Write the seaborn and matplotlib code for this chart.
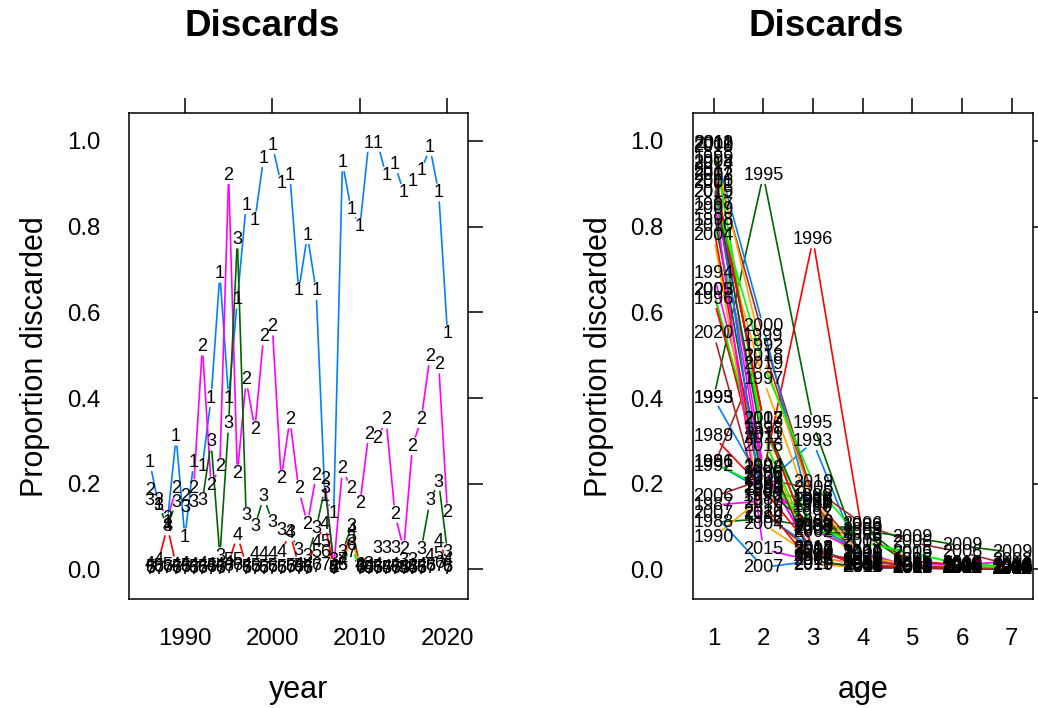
import numpy as np
import pandas as pd
import matplotlib
matplotlib.use("Agg")
import matplotlib.pyplot as plt
import seaborn as sns

# ---------------- data ----------------
years = list(range(1986, 2021))
ages = [1, 2, 3, 4, 5, 6, 7]

age1 = [0.25, 0.15, 0.11, 0.31, 0.075, 0.25, 0.24, 0.40, 0.69, 0.40,
        0.63, 0.85, 0.815, 0.96, 0.99, 0.90, 0.92, 0.65, 0.78, 0.65,
        0.17, 0.13, 0.95, 0.84, 0.80, 0.995, 0.995, 0.92, 0.945, 0.88,
        0.905, 0.93, 0.985, 0.88, 0.55]
age2 = [0.184, 0.16, 0.118, 0.188, 0.17, 0.19, 0.52, 0.196, 0.24, 0.92,
        0.224, 0.443, 0.327, 0.544, 0.567, 0.212, 0.35, 0.188, 0.106, 0.22,
        0.21, 0.005, 0.235, 0.188, 0.153, 0.316, 0.306, 0.349, 0.129, 0.047,
        0.288, 0.35, 0.497, 0.478, 0.133]
age3 = [0.162, 0.15, 0.10, 0.157, 0.145, 0.157, 0.16, 0.298, 0.031, 0.34,
        0.77, 0.125, 0.10, 0.17, 0.11, 0.092, 0.086, 0.045, 0.03, 0.095,
        0.19, 0.02, 0.04, 0.10, 0.01, 0.012, 0.05, 0.05, 0.05, 0.02,
        0.02, 0.047, 0.16, 0.204, 0.04]
age4 = [0.012, 0.02, 0.10, 0.01, 0.012, 0.01, 0.012, 0.01, 0.01, 0.015,
        0.08, 0.01, 0.035, 0.035, 0.035, 0.04, 0.085, 0.01, 0.01, 0.063,
        0.106, 0.005, 0.02, 0.09, 0.01, 0.005, 0.01, 0.005, 0.01, 0.005,
        0.005, 0.01, 0.03, 0.065, 0.02]
age5 = [0.005, 0.008, 0.01, 0.005, 0.006, 0.005, 0.004, 0.006, 0.005, 0.02,
        0.02, 0.005, 0.006, 0.005, 0.006, 0.005, 0.008, 0.006, 0.005, 0.04,
        0.063, 0.003, 0.01, 0.075, 0.004, 0.003, 0.004, 0.003, 0.004, 0.003,
        0.004, 0.005, 0.01, 0.035, 0.008]
age6 = [0.003, 0.004, 0.005, 0.003, 0.004, 0.003, 0.002, 0.004, 0.003, 0.008,
        0.01, 0.003, 0.004, 0.003, 0.004, 0.003, 0.005, 0.004, 0.003, 0.01,
        0.04, 0.002, 0.01, 0.055, 0.002, 0.002, 0.003, 0.002, 0.003, 0.002,
        0.002, 0.003, 0.006, 0.015, 0.004]
age7 = [0.0, 0.001, 0.002, 0.0, 0.001, 0.0, 0.0, 0.001, 0.0, 0.003,
        0.004, 0.0, 0.001, 0.0, 0.001, 0.0, 0.002, 0.001, 0.0, 0.004,
        0.01, 0.0, 0.02, 0.04, 0.0, 0.0, 0.001, 0.0, 0.001, 0.0,
        0.0, 0.001, 0.003, 0.006, 0.001]

series = [age1, age2, age3, age4, age5, age6, age7]
lattice_cols = ["#0080ff", "#ff00ff", "#006400", "#ff0000",
                "#ffa500", "#00ff00", "#a52a2a"]

title = "Discards"
ylab = "Proportion discarded"

# long table
rows = []
for a, vals in zip(ages, series):
    for y, v in zip(years, vals):
        rows.append((y, a, v))
df = pd.DataFrame(rows, columns=["year", "age", "value"])

# ---------------- style ----------------
sns.set_style("white")
plt.rcParams['font.family'] = ['Liberation Sans', 'DejaVu Sans']
plt.rcParams['text.color'] = 'black'
plt.rcParams['axes.labelcolor'] = 'black'
plt.rcParams['xtick.color'] = 'black'
plt.rcParams['ytick.color'] = 'black'
plt.rcParams['axes.edgecolor'] = 'black'

W, H = 1038, 708
fig = plt.figure(figsize=(W / 100, H / 100), dpi=100)
axL = fig.add_axes([129 / W, 1 - 599.3 / H, 339.3 / W, 486 / H])
axR = fig.add_axes([692.7 / W, 1 - 599.3 / H, 340 / W, 486 / H])

vmin, vmax = df["value"].min(), df["value"].max()
ypad = 0.07 * (vmax - vmin)
ylim = (vmin - ypad, vmax + ypad)


def lim(lo, hi):
    p = 0.07 * (hi - lo)
    return (lo - p, hi + p)


xlimL = lim(min(years), max(years))
xlimR = lim(min(ages), max(ages))
axL.set_xlim(*xlimL)
axR.set_xlim(*xlimR)
for ax in (axL, axR):
    ax.set_ylim(*ylim)

GAP = 9.5  # pixels


def gapped(ax, xs, ys):
    P = ax.transData.transform(np.column_stack([xs, ys]))
    inv = ax.transData.inverted()
    out = []
    for i in range(len(P) - 1):
        p0, p1 = P[i], P[i + 1]
        d = p1 - p0
        L = np.hypot(d[0], d[1])
        if L <= 2 * GAP:
            continue
        u = d / L
        a = inv.transform(p0 + u * GAP)
        b = inv.transform(p1 - u * GAP)
        out.append((a, b))
    return out


# ---- left panel: by year, one line per age ----
segL = []
sid = 0
for a in ages:
    sub = df[df.age == a].sort_values("year")
    for (a0, b0) in gapped(axL, sub.year.values, sub.value.values):
        segL.append((sid, str(a), a0[0], a0[1]))
        segL.append((sid, str(a), b0[0], b0[1]))
        sid += 1
segL = pd.DataFrame(segL, columns=["seg", "grp", "x", "y"])
palL = {str(a): lattice_cols[i] for i, a in enumerate(ages)}
sns.lineplot(data=segL, x="x", y="y", hue="grp", units="seg", estimator=None,
             sort=False, palette=palL, legend=False, ax=axL, linewidth=1.2)
for _, r in df.iterrows():
    axL.text(r.year, r.value, str(int(r.age)), ha="center", va="center",
             fontsize=13, color="black", zorder=5)

# ---- right panel: by age, one line per year ----
segR = []
sid = 0
for y in years:
    sub = df[df.year == y].sort_values("age")
    for (a0, b0) in gapped(axR, sub.age.values, sub.value.values):
        segR.append((sid, str(y), a0[0], a0[1]))
        segR.append((sid, str(y), b0[0], b0[1]))
        sid += 1
segR = pd.DataFrame(segR, columns=["seg", "grp", "x", "y"])
palR = {str(y): lattice_cols[i % 7] for i, y in enumerate(years)}
sns.lineplot(data=segR, x="x", y="y", hue="grp", units="seg", estimator=None,
             sort=False, palette=palR, legend=False, ax=axR, linewidth=1.2)
for _, r in df.iterrows():
    axR.text(r.age, r.value, str(int(r.year)), ha="center", va="center",
             fontsize=13, color="black", zorder=5)

# ---- axes decoration ----
axL.set_xticks([1990, 2000, 2010, 2020])
axR.set_xticks(ages)
for ax, xl, xlim in ((axL, "year", xlimL), (axR, "age", xlimR)):
    ax.set_xlim(*xlim)
    ax.set_ylim(*ylim)
    ax.set_yticks([0.0, 0.2, 0.4, 0.6, 0.8, 1.0])
    ax.set_yticklabels(["0.0", "0.2", "0.4", "0.6", "0.8", "1.0"])
    ax.tick_params(direction="out", length=10.8, width=1.1, top=True, right=True,
                   labeltop=False, labelright=False, labelsize=17.3, pad=10,
                   color="black", labelcolor="black")
    for s in ax.spines.values():
        s.set_visible(True)
        s.set_linewidth(1.1)
        s.set_color("black")
    ax.set_xlabel(xl, fontsize=22, color="black")
    ax.set_ylabel(ylab, fontsize=22, color="black")
    ax.xaxis.set_label_coords(0.5, -(690 - 599.3) / 486)
    ax.xaxis.label.set_va("center")
    ax.yaxis.set_label_coords((35 - 129) / 339.3, 0.5)
    ax.yaxis.label.set_va("center")
    ax.text((262 - 129) / 339.3, 1 + (113.3 - 26) / 486, title,
            transform=ax.transAxes, ha="center", va="center",
            fontsize=26.5, fontweight="bold", color="black")

fig.savefig("out.png", dpi=100, facecolor="white")
